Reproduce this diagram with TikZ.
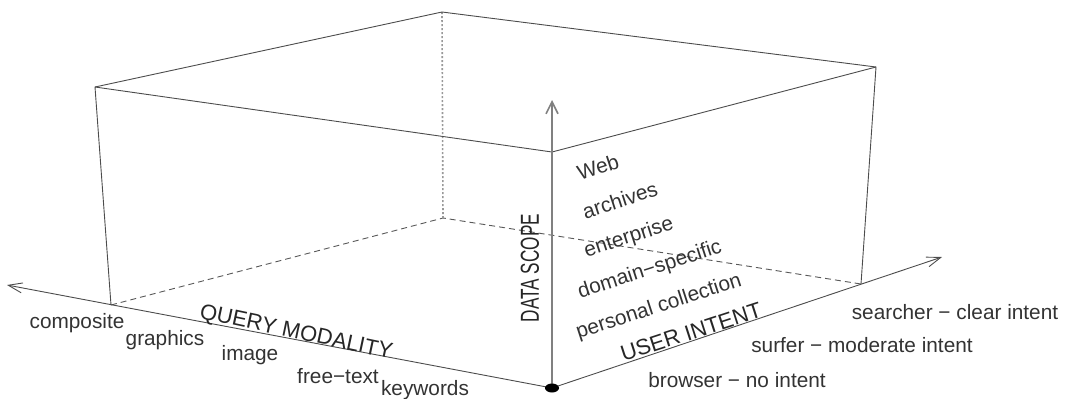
\documentclass[tikz,border=0pt]{standalone}
\usepackage{fontspec}
\setmainfont{Liberation Sans}
\usetikzlibrary{arrows.meta,shapes.geometric}
\begin{document}
\begin{tikzpicture}[x=0.5pt,y=-0.5pt,
  edge/.style={draw=black!70,line width=0.45pt},
  hidden/.style={draw=black!65,line width=0.45pt,dash pattern=on 3pt off 2pt},
  axis/.style={draw=black!70,line width=0.45pt,-{Straight Barb[length=7pt,width=5pt,line width=0.45pt]}},
  lbl/.style={font=\fontsize{10.4}{12}\selectfont,text=black!80,inner sep=0pt},
  tick/.style={lbl,rotate=18},
  title/.style={font=\fontsize{11}{13}\selectfont,text=black!85,inner sep=0pt}]
\useasboundingbox (0,0) rectangle (1076,398);

% corners of the box
\coordinate (O)  at (552,388);
\coordinate (LB) at (111,305);
\coordinate (RB) at (861,284);
\coordinate (BB) at (443,218);
\coordinate (LT) at (95,87);
\coordinate (BT) at (442,12);
\coordinate (RT) at (876,67);
\coordinate (FT) at (552,152);
\coordinate (XL) at (7,285);
\coordinate (XR) at (942,257);
\coordinate (XV) at (552,100);

% hidden floor edges and back vertical edge
\draw[hidden] (LB) -- (BB) -- (RB);
\draw[draw=black!40,line width=0.8pt,dash pattern=on 1pt off 1pt] (BT) -- (BB);

% visible edges
\draw[edge] (LB) -- (LT) -- (BT) -- (RT) -- (RB);
\draw[edge] (LT) -- (FT) -- (RT);

% axes
\draw[axis] (O) -- (XL);
\draw[axis] (O) -- (XR);
\draw[draw=black!50,line width=1.1pt,-{Straight Barb[length=6pt,width=6pt,line width=0.8pt]}] (O) -- (XV);
\node[fill=black,ellipse,minimum width=7pt,minimum height=4.5pt,inner sep=0pt] (dot) at (O) {};

% query modality
\node[lbl] (composite) at (77,323) {composite};
\node[lbl] (graphics) at (165,340) {graphics};
\node[lbl] (image) at (250,355) {image};
\node[lbl] (freetext) at (338,376) {free−text};
\node[lbl] (keywords) at (425,390) {keywords};
\node[title,rotate=-12] (qm) at (296,333) {QUERY MODALITY};

% data scope
\node[tick] (web) at (598,167) {Web};
\node[tick] (archives) at (620,200) {archives};
\node[tick] (enterprise) at (629,238) {enterprise};
\node[tick] (domain) at (650,270) {domain−specific};
\node[tick] (personal) at (659,307) {personal collection};
\node[title,rotate=90] (ds) at (530,268) {\scalebox{0.66}[1]{\fontsize{13}{15}\selectfont DATA SCOPE}};

% user intent
\node[title,rotate=18] (ui) at (691,332) {USER INTENT};
\node[lbl] (searcher) at (955,312) {searcher − clear intent};
\node[lbl] (surfer) at (862,345) {surfer − moderate intent};
\node[lbl] (browser) at (737,380) {browser − no intent};
\end{tikzpicture}
\end{document}
